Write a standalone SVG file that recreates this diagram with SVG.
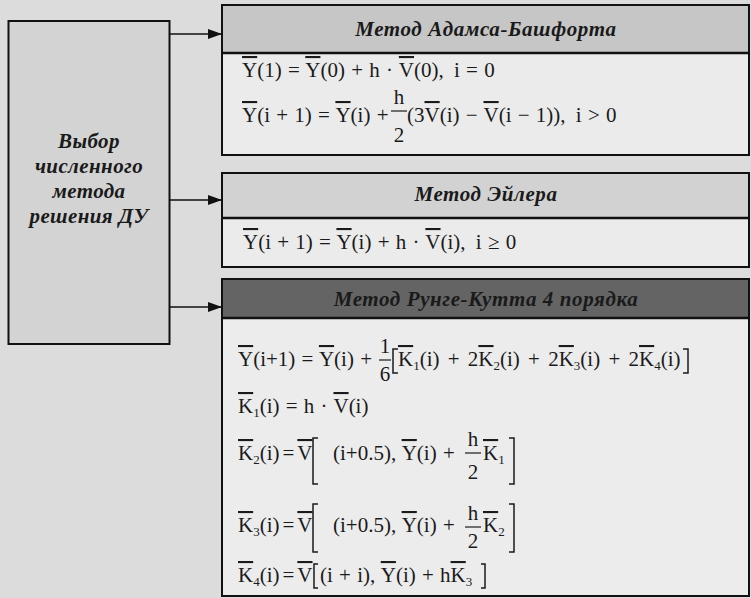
<svg xmlns="http://www.w3.org/2000/svg" width="751" height="598" viewBox="0 0 751 598">
<defs>
<marker id="ah" markerWidth="14" markerHeight="10" refX="14" refY="5" orient="auto" markerUnits="userSpaceOnUse">
<path d="M0,0 L14,5 L0,10 Z" fill="#111"/>
</marker>
</defs>
<style>
.box{stroke:#111;stroke-width:2;}
.sep{stroke:#111;stroke-width:2.5;}
.lt{font-family:"Liberation Serif",serif;font-style:italic;font-weight:bold;font-size:21px;letter-spacing:0.4px;fill:#1a1a1a;text-anchor:middle;}
.hdr{font-family:"Liberation Serif",serif;font-style:italic;font-weight:bold;font-size:21px;letter-spacing:0.6px;fill:#1a1a1a;text-anchor:middle;}
.f{font-family:"Liberation Serif",serif;font-size:21px;fill:#1a1a1a;word-spacing:1px;}
.c{text-anchor:middle;}
.ob{text-decoration:overline;}
.sb{font-size:13px;}
.bar{stroke:#1a1a1a;stroke-width:1.2;}
.br{fill:none;stroke:#1a1a1a;stroke-width:1.5;}
.con{stroke:#111;stroke-width:1.6;fill:none;}
</style>
<rect x="0" y="0" width="751" height="598" fill="#dcdcdc"/>

<g id="choice">
<rect class="box" x="8.5" y="21" width="161" height="323" fill="#d3d3d3"/>
<text class="lt" x="89" y="148">Выбор</text>
<text class="lt" x="89" y="173">численного</text>
<text class="lt" x="89" y="198">метода</text>
<text class="lt" x="89" y="223">решения ДУ</text>
</g>

<g id="connectors">
<line class="con" x1="170" y1="34" x2="222" y2="34" marker-end="url(#ah)"/>
<line class="con" x1="170" y1="200" x2="222" y2="200" marker-end="url(#ah)"/>
<line class="con" x1="170" y1="307" x2="222" y2="307" marker-end="url(#ah)"/>
</g>

<g id="adams">
<rect x="222" y="5" width="527" height="150" fill="#ebebeb"/>
<rect x="222" y="5" width="527" height="48" fill="#c6c6c6"/>
<rect class="box" x="222" y="5" width="527" height="150" fill="none"/>
<line class="sep" x1="222" y1="53" x2="749" y2="53"/>
<text class="hdr" x="486" y="36">Метод Адамса-Башфорта</text>
<text class="f" x="242" y="77"><tspan class="ob">Y</tspan>(1) = <tspan class="ob">Y</tspan>(0) + h · <tspan class="ob">V</tspan>(0), <tspan dx="4">i = 0</tspan></text>
<text class="f" x="242" y="122"><tspan class="ob">Y</tspan>(i + 1) = <tspan class="ob">Y</tspan>(i) +</text>
<text class="f c" x="399" y="104">h</text>
<line class="bar" x1="391" y1="111" x2="407" y2="111"/>
<text class="f c" x="399" y="142">2</text>
<text class="f" x="407" y="122">(3<tspan class="ob">V</tspan>(i) − <tspan class="ob">V</tspan>(i − 1)), <tspan dx="4">i &gt; 0</tspan></text>
</g>

<g id="euler">
<rect x="222" y="173" width="527" height="94" fill="#ebebeb"/>
<rect x="222" y="173" width="527" height="45" fill="#d2d2d2"/>
<rect class="box" x="222" y="173" width="527" height="94" fill="none"/>
<line class="sep" x1="222" y1="218" x2="749" y2="218"/>
<text class="hdr" x="486" y="201">Метод Эйлера</text>
<text class="f" x="243" y="249"><tspan class="ob">Y</tspan>(i + 1) = <tspan class="ob">Y</tspan>(i) + h · <tspan class="ob">V</tspan>(i), <tspan dx="4">i ≥ 0</tspan></text>
</g>

<g id="runge">
<rect x="222" y="279" width="527" height="318" fill="#ececec"/>
<rect x="222" y="279" width="527" height="39" fill="#646464"/>
<rect class="box" x="222" y="279" width="527" height="317" fill="none"/>
<line class="sep" x1="222" y1="318" x2="749" y2="318"/>
<text class="hdr" x="486" y="306">Метод Рунге-Кутта 4 порядка</text>

<text class="f" x="238" y="366"><tspan class="ob">Y</tspan>(i+1) = <tspan class="ob">Y</tspan>(i) +</text>
<text class="f c" x="385" y="353">1</text>
<line class="bar" x1="379" y1="360" x2="391" y2="360"/>
<text class="f c" x="385" y="381">6</text>
<path class="br" d="M398,349 h-5 v24 h5"/>
<text class="f" x="398" y="366" style="word-spacing:3px"><tspan class="ob">K</tspan><tspan class="sb" dy="4">1</tspan><tspan dy="-4">(i) + 2</tspan><tspan class="ob">K</tspan><tspan class="sb" dy="4">2</tspan><tspan dy="-4">(i) + 2</tspan><tspan class="ob">K</tspan><tspan class="sb" dy="4">3</tspan><tspan dy="-4">(i) + 2</tspan><tspan class="ob">K</tspan><tspan class="sb" dy="4">4</tspan><tspan dy="-4">(i)</tspan></text>
<path class="br" d="M683,349 h5 v24 h-5"/>

<text class="f" x="238" y="413"><tspan class="ob">K</tspan><tspan class="sb" dy="4">1</tspan><tspan dy="-4">(i) = h · </tspan><tspan class="ob">V</tspan>(i)</text>

<text class="f" x="238" y="460"><tspan class="ob">K</tspan><tspan class="sb" dy="4">2</tspan><tspan dy="-4">(i)</tspan><tspan dx="3">=</tspan><tspan class="ob" dx="3">V</tspan></text>
<path class="br" d="M318,438 h-5 v46 h5"/>
<text class="f" x="333" y="460">(i+0.5), <tspan class="ob">Y</tspan>(i) +</text>
<text class="f c" x="473" y="446">h</text>
<line class="bar" x1="465" y1="453" x2="481" y2="453"/>
<text class="f c" x="473" y="479">2</text>
<text class="f" x="483" y="460"><tspan class="ob">K</tspan><tspan class="sb" dy="4">1</tspan></text>
<path class="br" d="M509,438 h5 v46 h-5"/>

<text class="f" x="238" y="532"><tspan class="ob">K</tspan><tspan class="sb" dy="4">3</tspan><tspan dy="-4">(i)</tspan><tspan dx="3">=</tspan><tspan class="ob" dx="3">V</tspan></text>
<path class="br" d="M318,504 h-5 v48 h5"/>
<text class="f" x="333" y="532">(i+0.5), <tspan class="ob">Y</tspan>(i) +</text>
<text class="f c" x="473" y="520">h</text>
<line class="bar" x1="465" y1="527" x2="481" y2="527"/>
<text class="f c" x="473" y="548">2</text>
<text class="f" x="483" y="532"><tspan class="ob">K</tspan><tspan class="sb" dy="4">2</tspan></text>
<path class="br" d="M509,504 h5 v48 h-5"/>

<text class="f" x="238" y="582"><tspan class="ob">K</tspan><tspan class="sb" dy="4">4</tspan><tspan dy="-4">(i)</tspan><tspan dx="3">=</tspan><tspan class="ob" dx="3">V</tspan></text>
<path class="br" d="M318,564 h-4 v24 h4"/>
<text class="f" x="320" y="582">(i + i), <tspan class="ob">Y</tspan>(i) + h<tspan class="ob">K</tspan><tspan class="sb" dy="4">3</tspan></text>
<path class="br" d="M481,564 h4 v24 h-4"/>
</g>
</svg>
